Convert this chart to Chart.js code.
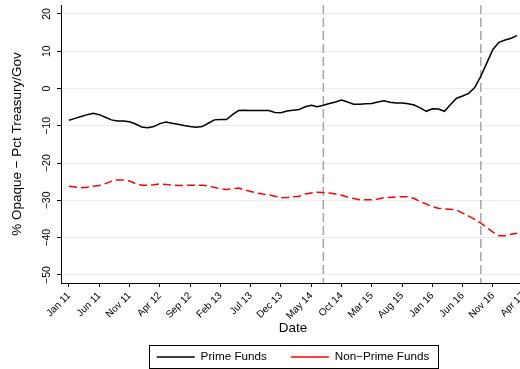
<!DOCTYPE html>
<html>
<head>
<meta charset="utf-8">
<script src="https://cdn.jsdelivr.net/npm/chart.js@4.4.1/dist/chart.umd.min.js"></script>
<style>
  html, body { margin: 0; padding: 0; background: #fff; overflow: hidden; }
  #wrap { width: 540px; height: 369px; }
</style>
</head>
<body>
<div id="wrap"><canvas id="chart" width="540" height="369"></canvas></div>
<script>
// Monthly spread, Jan 2011 (month 0) through Mar 2017 (month 74)
const primeFunds = [
  -8.5, -8.0, -7.5, -7.0, -6.6, -7.0, -7.7, -8.4, -8.7, -8.7,
  -8.9, -9.5, -10.3, -10.5, -10.2, -9.4, -9.0, -9.3, -9.6, -9.9,
  -10.2, -10.4, -10.2, -9.3, -8.4, -8.3, -8.3, -7.0, -5.9, -5.8,
  -5.9, -5.9, -5.9, -5.9, -6.4, -6.5, -6.0, -5.8, -5.6, -4.9,
  -4.5, -4.9, -4.5, -4.0, -3.6, -3.1, -3.6, -4.2, -4.2, -4.1,
  -4.0, -3.6, -3.3, -3.7, -3.9, -3.9, -4.1, -4.4, -5.2, -6.1,
  -5.4, -5.5, -6.1, -4.3, -2.6, -2.0, -1.3, 0.3, 3.3, 6.9,
  10.5, 12.4, 13.0, 13.5, 14.2
];
const nonPrimeFunds = [
  -26.2, -26.4, -26.6, -26.5, -26.2, -26.0, -25.5, -24.9, -24.5, -24.5,
  -24.8, -25.5, -25.9, -25.9, -25.8, -25.6, -25.7, -25.9, -26.0, -26.0,
  -25.9, -25.9, -25.9, -26.1, -26.5, -26.9, -27.1, -26.9, -26.7, -27.2,
  -27.6, -28.0, -28.3, -28.5, -28.9, -29.3, -29.2, -29.0, -28.9, -28.3,
  -28.0, -27.8, -27.9, -28.0, -28.3, -28.6, -29.1, -29.5, -29.8, -29.8,
  -29.8, -29.6, -29.3, -29.2, -29.1, -29.0, -29.0, -29.5, -30.3, -31.0,
  -31.7, -32.1, -32.3, -32.4, -32.6, -33.4, -34.2, -35.1, -36.1, -37.3,
  -38.5, -39.5, -39.5, -39.1, -38.8
];
const tickMonths = [0, 5, 10, 15, 20, 25, 30, 35, 40, 45, 50, 55, 60, 65, 70, 75];
const tickLabels = ['Jan 11', 'Jun 11', 'Nov 11', 'Apr 12', 'Sep 12', 'Feb 13', 'Jul 13', 'Dec 13',
                    'May 14', 'Oct 14', 'Mar 15', 'Aug 15', 'Jan 16', 'Jun 16', 'Nov 16', 'Apr 17'];
const yTickValues = [-50, -40, -30, -20, -10, 0, 10, 20];
const reformMonths = [42, 68];

const FONT = "'Liberation Sans', Arial, Helvetica, sans-serif";
const PLOT_BOTTOM = 283;
const LEGEND_ROW_CENTER = 357;
const LEGEND_PAD = 24;
const LEGEND_FONT = 11.7;

const toPoints = arr => arr.map((v, i) => ({ x: i, y: v }));

// Dashed vertical markers for the reform dates
const reformLines = {
  id: 'reformLines',
  beforeDatasetsDraw(chart) {
    const { ctx, chartArea: a, scales: { x } } = chart;
    ctx.save();
    ctx.strokeStyle = '#a6a6a6';
    ctx.lineWidth = 1.5;
    ctx.setLineDash([9, 4]);
    reformMonths.forEach(m => {
      const px = x.getPixelForValue(m);
      ctx.beginPath();
      ctx.moveTo(px, a.top);
      ctx.lineTo(px, a.bottom);
      ctx.stroke();
    });
    ctx.restore();
  }
};

// Centre the legend under the plot region and frame it with a box
const legendFrame = {
  id: 'legendFrame',
  afterLayout(chart) {
    const lg = chart.legend;
    const a = chart.chartArea;
    const dx = (a.left + a.right) / 2 - (lg.left + lg.right) / 2;
    lg.left += dx; lg.right += dx;
    const top = LEGEND_ROW_CENTER - LEGEND_PAD - LEGEND_FONT / 2;
    const dy = top - lg.top;
    lg.top += dy; lg.bottom += dy;
  },
  afterDraw(chart) {
    const hb = chart.legend.legendHitBoxes;
    if (!hb || !hb.length) return;
    const first = hb[0], last = hb[hb.length - 1];
    const x0 = Math.round(first.left - 8) + 0.5;
    const x1 = Math.round(last.left + last.width + 9) + 0.5;
    const y0 = Math.round(LEGEND_ROW_CENTER - 12) + 0.5;
    const y1 = Math.round(LEGEND_ROW_CENTER + 11) + 0.5;
    const ctx = chart.ctx;
    ctx.save();
    ctx.strokeStyle = '#000';
    ctx.lineWidth = 1;
    ctx.strokeRect(x0, y0, x1 - x0, y1 - y0);
    ctx.restore();
  }
};

new Chart(document.getElementById('chart'), {
  type: 'line',
  data: {
    datasets: [
      {
        label: 'Prime Funds',
        data: toPoints(primeFunds),
        borderColor: '#000000',
        backgroundColor: '#000000',
        borderWidth: 1.5,
        pointRadius: 0,
        tension: 0,
        fill: false
      },
      {
        label: 'Non\u2212Prime Funds',
        data: toPoints(nonPrimeFunds),
        borderColor: '#ff0000',
        backgroundColor: '#ff0000',
        borderWidth: 1.5,
        borderDash: [8, 4],
        pointRadius: 0,
        tension: 0,
        fill: false
      }
    ]
  },
  options: {
    responsive: false,
    animation: false,
    events: [],
    layout: { padding: { top: 5, right: 15, bottom: 0, left: 0 } },
    plugins: {
      tooltip: { enabled: false },
      legend: {
        display: true,
        position: 'bottom',
        labels: {
          usePointStyle: true,
          pointStyle: 'line',
          pointStyleWidth: 38,
          padding: LEGEND_PAD,
          color: '#000',
          font: { family: FONT, size: LEGEND_FONT }
        }
      }
    },
    scales: {
      x: {
        type: 'linear',
        min: -1.32,
        max: 75.3,
        afterBuildTicks: s => { s.ticks = tickMonths.map(v => ({ value: v })); },
        afterFit: s => {
          s.height = s.chart.height - PLOT_BOTTOM - s.chart.legend.height;
          s.paddingLeft = 0; s.paddingRight = 0;
        },
        ticks: {
          autoSkip: false,
          minRotation: 45,
          maxRotation: 45,
          padding: 3,
          color: '#000',
          font: { family: FONT, size: 10 },
          callback: v => tickLabels[tickMonths.indexOf(v)]
        },
        grid: {
          display: true,
          drawOnChartArea: false,
          drawTicks: true,
          tickLength: 4,
          tickColor: '#000',
          tickWidth: 1
        },
        border: { display: true, color: '#000', width: 1 },
        title: {
          display: true,
          text: 'Date',
          color: '#000',
          font: { family: FONT, size: 13.5 },
          padding: { top: 0, bottom: -13 }
        }
      },
      y: {
        min: -52.15,
        max: 22.41,
        afterBuildTicks: s => { s.ticks = yTickValues.map(v => ({ value: v })); },
        afterFit: s => {
          s.width = 61;
          s.paddingTop = 0; s.paddingBottom = 0;
        },
        ticks: {
          minRotation: 90,
          maxRotation: 90,
          crossAlign: 'center',
          padding: 1,
          color: '#000',
          font: { family: FONT, size: 10.5 },
          callback: v => (v < 0 ? '\u2212' : '') + Math.abs(v)
        },
        grid: {
          color: '#e6eeef',
          lineWidth: 1,
          drawTicks: true,
          tickLength: 4,
          tickColor: '#000',
          tickWidth: 1
        },
        border: { display: true, color: '#000', width: 1 },
        title: {
          display: true,
          text: '% Opaque \u2212 Pct Treasury/Gov',
          color: '#000',
          font: { family: FONT, size: 13.5 },
          padding: { top: 9.5, bottom: 0 }
        }
      }
    }
  },
  plugins: [reformLines, legendFrame]
});
</script>
</body>
</html>
